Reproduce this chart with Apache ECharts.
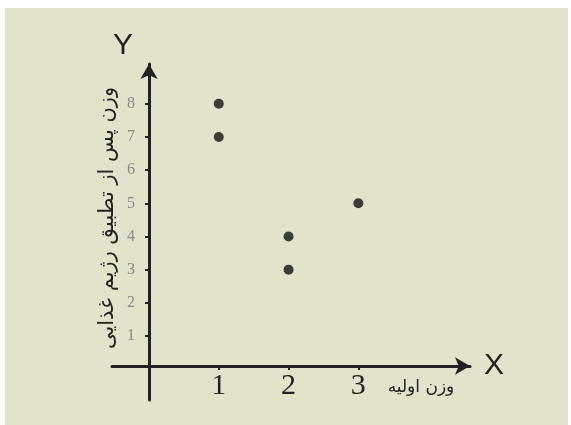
<!DOCTYPE html>
<html>
<head>
<meta charset="utf-8">
<script src="https://cdn.jsdelivr.net/npm/echarts@6/dist/echarts.min.js"></script>
<style>
html,body{margin:0;padding:0;background:#ffffff;width:571px;height:425px;overflow:hidden;}
#bg{position:absolute;left:5px;top:8px;width:563px;height:417px;background:#e2e3ca;}
#chart{position:absolute;left:0;top:0;width:571px;height:425px;}
</style>
</head>
<body>
<div id="bg"></div>
<div id="chart"></div>
<script>
const initialWeight = [1, 1, 2, 2, 3];
const weightAfterDiet = [8, 7, 4, 3, 5];
const xTickLabels = [1, 2, 3];
const yTickLabels = [1, 2, 3, 4, 5, 6, 7, 8];
const xAxisLetter = 'X';
const yAxisLetter = 'Y';
const xAxisTitle = 'وزن اولیه';
const yAxisTitle = 'وزن پس از تطبیق رژیم غذایی';

const points = initialWeight.map((x, i) => [x, weightAfterDiet[i]]);

const chart = echarts.init(document.getElementById('chart'));
chart.setOption({
  backgroundColor: 'transparent',
  animation: false,
  grid: { left: 112, right: 101, top: 64, bottom: 25, containLabel: false },
  xAxis: {
    type: 'value', min: -0.53, max: 4.6,
    position: 'bottom', offset: -34,
    splitLine: { show: false },
    axisLine: { onZero: false, symbol: ['none', 'arrow'], symbolSize: [13, 15], lineStyle: { color: '#222', width: 3 } },
    axisTick: { show: true, customValues: xTickLabels, length: 4, lineStyle: { color: '#222', width: 2 } },
    axisLabel: { customValues: xTickLabels, color: '#222', fontSize: 30, fontFamily: 'Liberation Serif, DejaVu Serif, serif', margin: 5 }
  },
  yAxis: {
    type: 'value', min: -0.93, max: 9.2,
    position: 'left', offset: -37,
    splitLine: { show: false },
    axisLine: { onZero: false, symbol: ['none', 'arrow'], symbolSize: [13, 15], lineStyle: { color: '#222', width: 3 } },
    axisTick: { show: true, customValues: yTickLabels, length: 4, lineStyle: { color: '#222', width: 2 } },
    axisLabel: { customValues: yTickLabels, color: '#888', fontSize: 16, fontFamily: 'Liberation Serif, DejaVu Serif, serif', margin: 14 }
  },
  graphic: [
    { type: 'text', left: 113, top: 31, style: { text: yAxisLetter, fontSize: 30, fill: '#222', fontFamily: 'Liberation Sans, Arial, sans-serif' } },
    { type: 'text', left: 484, top: 351, style: { text: xAxisLetter, fontSize: 30, fill: '#222', fontFamily: 'Liberation Sans, Arial, sans-serif' } },
    { type: 'text', x: 421, y: 388, style: { text: xAxisTitle, fontSize: 17, fill: '#222', fontFamily: 'DejaVu Sans, sans-serif', align: 'center', verticalAlign: 'middle' } },
    { type: 'text', x: 108, y: 218, rotation: Math.PI / 2, style: { text: yAxisTitle, fontSize: 21, fill: '#222', fontFamily: 'DejaVu Sans, sans-serif', align: 'center', verticalAlign: 'middle' } }
  ],
  series: [{
    type: 'scatter',
    data: points,
    symbol: 'circle',
    symbolSize: 10,
    itemStyle: { color: '#111' }
  }]
});
</script>
</body>
</html>
